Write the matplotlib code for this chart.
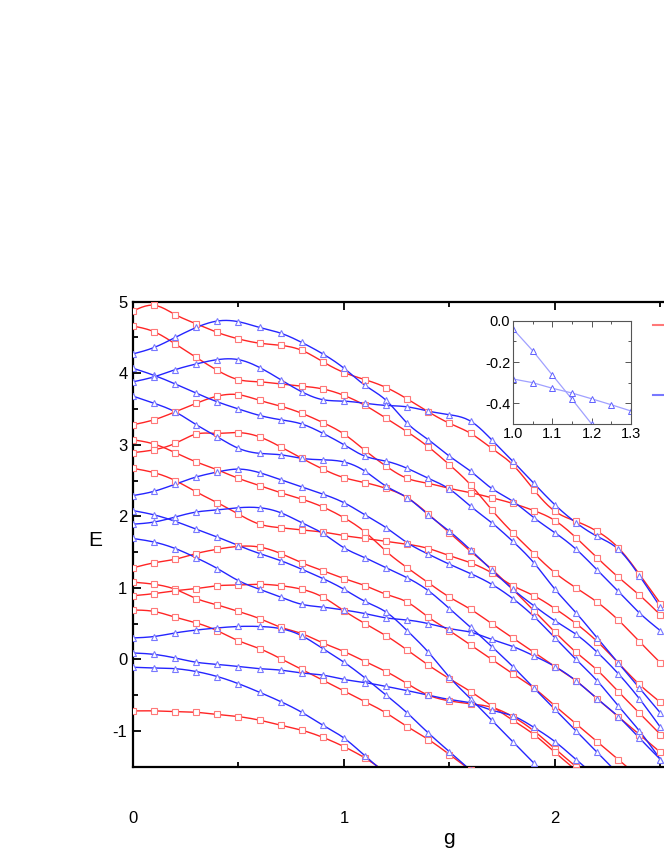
import numpy as np
import matplotlib
matplotlib.use('Agg')
import matplotlib.pyplot as plt
from matplotlib.ticker import MultipleLocator, FixedLocator
from matplotlib.lines import Line2D

plt.rcParams['font.family'] = ['Liberation Sans', 'DejaVu Sans']
plt.rcParams['axes.unicode_minus'] = False

nan = np.nan
g = [0.0, 0.1, 0.2, 0.3, 0.4, 0.5, 0.6, 0.7, 0.8, 0.9, 1.0, 1.1, 1.2, 1.3,
     1.4, 1.5, 1.6, 1.7, 1.8, 1.9, 2.0, 2.1, 2.2, 2.3, 2.4, 2.5]

# even-parity levels (red squares)
red_1 = [4.87, 4.95, 4.82, 4.69, 4.57, 4.48, 4.42, 4.39, 4.32, 4.16, 4.01, 3.91, 3.80, 3.64, 3.46, 3.30, 3.16, 2.95, 2.72, 2.37, 2.07, 1.93, 1.79, 1.56, 1.19, 0.78]
red_2 = [4.66, 4.58, 4.41, 4.22, 4.04, 3.91, 3.88, 3.85, 3.82, 3.78, 3.69, 3.55, 3.37, 3.18, 2.97, 2.72, 2.44, 2.09, 1.77, 1.48, 1.21, 1.00, 0.80, 0.55, 0.25, -0.05]
red_3 = [3.28, 3.35, 3.46, 3.58, 3.68, 3.70, 3.62, 3.54, 3.44, 3.31, 3.15, 2.92, 2.70, 2.53, 2.46, 2.39, 2.33, 2.26, 2.18, 2.08, 1.94, 1.70, 1.42, 1.15, 0.90, 0.62]
red_4 = [3.07, 3.01, 2.89, 2.76, 2.65, 2.53, 2.43, 2.33, 2.24, 2.13, 1.98, 1.78, 1.51, 1.28, 1.07, 0.87, 0.70, 0.50, 0.30, 0.10, -0.10, -0.30, -0.55, -0.80, -1.05, -1.30]
red_5 = [2.89, 2.93, 3.02, 3.15, 3.16, 3.17, 3.11, 2.97, 2.81, 2.66, 2.54, 2.47, 2.39, 2.26, 2.03, 1.77, 1.51, 1.26, 0.98, 0.68, 0.38, 0.10, -0.15, -0.45, -0.75, -1.05]
red_6 = [2.67, 2.61, 2.50, 2.34, 2.19, 2.03, 1.89, 1.84, 1.81, 1.78, 1.73, 1.69, 1.65, 1.61, 1.55, 1.45, 1.35, 1.21, 1.03, 0.89, 0.71, 0.50, 0.25, -0.05, -0.35, -0.60]
red_7 = [1.28, 1.35, 1.40, 1.48, 1.54, 1.58, 1.57, 1.48, 1.35, 1.24, 1.13, 1.03, 0.91, 0.80, 0.59, 0.40, 0.20, 0.00, -0.20, -0.40, -0.65, -0.90, -1.15, -1.40, -1.65, nan]
red_8 = [1.08, 1.05, 0.98, 0.85, 0.76, 0.67, 0.57, 0.45, 0.36, 0.23, 0.11, -0.03, -0.17, -0.34, -0.50, -0.58, -0.62, -0.67, -0.80, -1.00, -1.25, -1.50, nan, nan, nan, nan]
red_9 = [0.89, 0.92, 0.96, 0.99, 1.03, 1.04, 1.05, 1.03, 0.98, 0.87, 0.68, 0.50, 0.33, 0.13, -0.08, -0.27, -0.45, -0.65, -0.85, -1.05, -1.30, -1.55, nan, nan, nan, nan]
red_10 = [0.69, 0.67, 0.59, 0.51, 0.40, 0.26, 0.15, 0.01, -0.14, -0.29, -0.44, -0.59, -0.75, -0.94, -1.12, -1.33, -1.55, nan, nan, nan, nan, nan, nan, nan, nan, nan]
red_11 = [-0.72, -0.72, -0.73, -0.74, -0.77, -0.80, -0.85, -0.92, -0.99, -1.09, -1.22, -1.38, -1.58, nan, nan, nan, nan, nan, nan, nan, nan, nan, nan, nan, nan, nan]

# odd-parity levels (blue triangles)
blue_1 = [4.27, 4.36, 4.50, 4.64, 4.73, 4.72, 4.64, 4.56, 4.43, 4.27, 4.07, 3.83, 3.62, 3.30, 3.07, 2.84, 2.63, 2.39, 2.21, 1.98, 1.77, 1.54, 1.25, 0.95, 0.65, 0.40]
blue_2 = [4.07, 3.97, 3.85, 3.72, 3.60, 3.50, 3.41, 3.35, 3.29, 3.16, 3.00, 2.84, 2.77, 2.67, 2.53, 2.38, 2.14, 1.91, 1.65, 1.35, 0.98, 0.65, 0.30, -0.05, -0.40, -0.75]
blue_3 = [3.88, 3.95, 4.05, 4.13, 4.19, 4.19, 4.08, 3.91, 3.74, 3.63, 3.61, 3.58, 3.55, 3.53, 3.47, 3.42, 3.33, 3.07, 2.77, 2.46, 2.16, 1.91, 1.72, 1.54, 1.17, 0.73]
blue_4 = [3.68, 3.58, 3.46, 3.28, 3.11, 2.95, 2.88, 2.86, 2.81, 2.79, 2.76, 2.63, 2.42, 2.26, 2.02, 1.79, 1.53, 1.25, 0.98, 0.75, 0.54, 0.35, 0.10, -0.20, -0.55, -0.95]
blue_5 = [2.29, 2.35, 2.45, 2.55, 2.62, 2.66, 2.61, 2.51, 2.41, 2.31, 2.19, 2.02, 1.84, 1.63, 1.47, 1.33, 1.20, 1.05, 0.85, 0.60, 0.30, 0.00, -0.30, -0.65, -1.00, -1.40]
blue_6 = [2.08, 2.02, 1.93, 1.82, 1.71, 1.59, 1.48, 1.38, 1.26, 1.13, 0.98, 0.81, 0.66, 0.40, 0.10, -0.25, -0.55, -0.85, -1.15, -1.45, -1.75, nan, nan, nan, nan, nan]
blue_7 = [1.89, 1.92, 1.99, 2.06, 2.09, 2.12, 2.12, 2.05, 1.91, 1.76, 1.56, 1.42, 1.28, 1.14, 0.96, 0.71, 0.45, 0.18, -0.10, -0.40, -0.70, -1.00, -1.30, -1.60, nan, nan]
blue_8 = [1.69, 1.64, 1.55, 1.42, 1.27, 1.10, 0.98, 0.87, 0.77, 0.73, 0.69, 0.64, 0.58, 0.55, 0.50, 0.43, 0.38, 0.28, 0.18, 0.05, -0.10, -0.30, -0.55, -0.80, -1.10, -1.40]
blue_9 = [0.30, 0.32, 0.37, 0.41, 0.44, 0.46, 0.46, 0.43, 0.33, 0.15, -0.04, -0.26, -0.50, -0.75, -1.03, -1.29, -1.55, nan, nan, nan, nan, nan, nan, nan, nan, nan]
blue_10 = [0.09, 0.07, 0.02, -0.04, -0.07, -0.10, -0.13, -0.15, -0.19, -0.22, -0.28, -0.325, -0.378, -0.437, -0.50, -0.56, -0.61, -0.71, -0.79, -0.95, -1.15, -1.40, -1.65, nan, nan, nan]
blue_11 = [-0.11, -0.12, -0.13, -0.17, -0.24, -0.34, -0.46, -0.59, -0.74, -0.92, -1.10, -1.35, -1.60, nan, nan, nan, nan, nan, nan, nan, nan, nan, nan, nan, nan, nan]

red_levels = [red_1, red_2, red_3, red_4, red_5, red_6, red_7, red_8, red_9, red_10, red_11]
blue_levels = [blue_1, blue_2, blue_3, blue_4, blue_5, blue_6, blue_7, blue_8, blue_9, blue_10, blue_11]

# inset (zoom near the crossing)
inset_g = [1.0, 1.05, 1.1, 1.15, 1.2, 1.25, 1.3]
inset_a = [-0.04, -0.145, -0.263, -0.38, -0.50, -0.62, nan]
inset_b = [-0.282, -0.30, -0.327, -0.35, -0.378, -0.407, -0.437]

x_ticks = [0, 1, 2]
x_ticklabels = ['0', '1', '2']
y_ticks = [-1, 0, 1, 2, 3, 4, 5]
y_ticklabels = ['-1', '0', '1', '2', '3', '4', '5']


def smooth(x, y, n=12):
    """natural cubic spline through the given points (for drawing only)"""
    x = np.asarray(x, float)
    y = np.asarray(y, float)
    m = len(x)
    if m < 3:
        return x, y
    h = np.diff(x)
    A = np.zeros((m, m))
    b = np.zeros(m)
    A[0, 0] = A[-1, -1] = 1.0
    for i in range(1, m - 1):
        A[i, i - 1] = h[i - 1]
        A[i, i] = 2 * (h[i - 1] + h[i])
        A[i, i + 1] = h[i]
        b[i] = 3 * ((y[i + 1] - y[i]) / h[i] - (y[i] - y[i - 1]) / h[i - 1])
    c = np.linalg.solve(A, b)
    xs, ys = [], []
    for i in range(m - 1):
        bi = (y[i + 1] - y[i]) / h[i] - h[i] * (2 * c[i] + c[i + 1]) / 3
        di = (c[i + 1] - c[i]) / (3 * h[i])
        t = np.linspace(0, h[i], n, endpoint=(i == m - 2))
        xs.append(x[i] + t)
        ys.append(y[i] + bi * t + c[i] * t ** 2 + di * t ** 3)
    return np.concatenate(xs), np.concatenate(ys)


fig = plt.figure(figsize=(6.64, 8.6), dpi=100)
ax = fig.add_axes([133 / 664, (860 - 766.7) / 860, 633 / 664, 465 / 860])

line_red = '#ff2525'
line_blue = '#2525ff'
mk_red = '#ff7878'
mk_blue = '#7878ff'

for series, lc, mc, mk, ms in [(red_levels, line_red, mk_red, 's', 3.8),
                               (blue_levels, line_blue, mk_blue, '^', 4.6)]:
    for yv in series:
        yv = np.asarray(yv, float)
        gx = np.asarray(g, float)
        ok = ~np.isnan(yv)
        xs, ys = smooth(gx[ok], yv[ok])
        ax.plot(xs, ys, '-', color=lc, lw=1.0, zorder=2)
        ax.plot(gx[ok], yv[ok], linestyle='none', marker=mk, ms=ms,
                mfc='white', mec=mc, mew=0.8, zorder=3)

ax.set_xlim(0, 3)
ax.set_ylim(-1.5, 5)
ax.xaxis.set_major_locator(FixedLocator(x_ticks))
ax.set_xticklabels(x_ticklabels)
ax.xaxis.set_minor_locator(FixedLocator([0.5, 1.5, 2.5]))
ax.yaxis.set_major_locator(FixedLocator(y_ticks))
ax.set_yticklabels(y_ticklabels)
ax.yaxis.set_minor_locator(MultipleLocator(0.5))
ax.tick_params(which='both', direction='in', top=True, right=True, width=1.3)
ax.tick_params(which='major', length=6)
ax.tick_params(which='minor', length=3.5)
ax.tick_params(axis='y', labelsize=12, pad=4)
ax.tick_params(axis='x', labelsize=12, pad=32)
for sp in ax.spines.values():
    sp.set_linewidth(1.6)

fig.text(449 / 664, 1 - 838 / 860, 'g', fontsize=15, ha='center', va='center')
fig.text(95 / 664, 1 - 540 / 860, 'E', fontsize=15, ha='center', va='center')

# legend: only the handles fall inside the (cropped) picture
handles = [Line2D([], [], color=mk_red, lw=1.5),
           Line2D([], [], color=mk_blue, lw=1.5)]
ax.legend(handles, ['', ''], loc='upper left',
          bbox_to_anchor=(652.5 / 664, 1 - 318.5 / 860), bbox_transform=fig.transFigure,
          frameon=False, fontsize=12, borderpad=0, borderaxespad=0,
          labelspacing=3.3, handlelength=2.2)

# inset
axin = fig.add_axes([513 / 664, 1 - 424 / 860, 118 / 664, 103.3 / 860])
axin.plot(inset_g, inset_a, '-', color='#a0a0ff', lw=0.9, marker='^', ms=5,
          mfc='white', mec='#6060ff', mew=0.7)
axin.plot(inset_g, inset_b, '-', color='#a0a0ff', lw=0.9, marker='^', ms=5,
          mfc='white', mec='#6060ff', mew=0.7)
axin.set_xlim(1.0, 1.3)
axin.set_ylim(-0.5, 0.0)
axin.xaxis.set_major_locator(FixedLocator([1.0, 1.1, 1.2, 1.3]))
axin.xaxis.set_minor_locator(FixedLocator([1.05, 1.15, 1.25]))
axin.yaxis.set_major_locator(FixedLocator([0.0, -0.2, -0.4]))
axin.yaxis.set_minor_locator(FixedLocator([-0.1, -0.3, -0.5]))
axin.set_xticklabels(['1.0', '1.1', '1.2', '1.3'])
axin.set_yticklabels(['0.0', '-0.2', '-0.4'])
axin.tick_params(which='both', direction='in', top=True, right=True, width=0.7,
                 color='#555555', labelsize=10.5, pad=2)
axin.tick_params(which='major', length=4)
axin.tick_params(which='minor', length=2.5)
for sp in axin.spines.values():
    sp.set_linewidth(0.8)
    sp.set_color('#555555')

fig.savefig('out.png', dpi=100)
